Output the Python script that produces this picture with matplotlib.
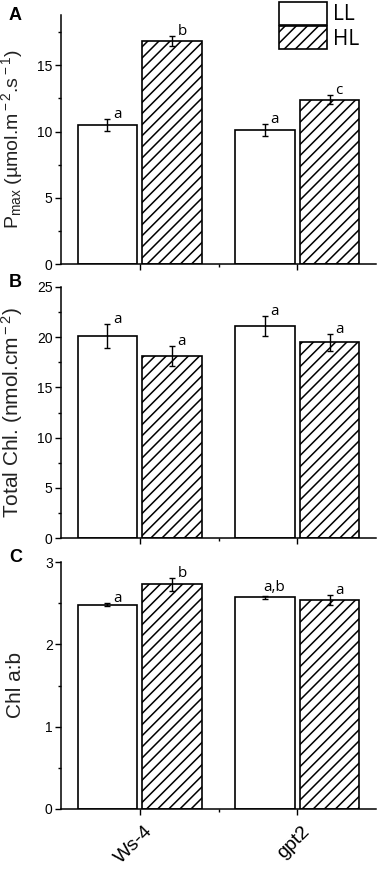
import numpy as np
import matplotlib
matplotlib.use("Agg")
import matplotlib.pyplot as plt
import matplotlib.transforms as mtransforms
from matplotlib.ticker import MultipleLocator, FixedLocator

plt.rcParams['font.family'] = ['Liberation Sans', 'DejaVu Sans']
plt.rcParams['mathtext.fontset'] = 'custom'
plt.rcParams['mathtext.rm'] = 'Liberation Sans'
plt.rcParams['mathtext.it'] = 'Liberation Sans:italic'
plt.rcParams['hatch.linewidth'] = 1.1

# ---- data ----
genotypes = ['Ws-4', 'gpt2']
conditions = ['LL', 'HL']

pmax_ll = [10.5, 10.1]
pmax_ll_err = [0.47, 0.45]
pmax_hl = [16.85, 12.4]
pmax_hl_err = [0.38, 0.35]
pmax_letters_ll = ['a', 'a']
pmax_letters_hl = ['b', 'c']

chl_ll = [20.1, 21.1]
chl_ll_err = [1.2, 1.0]
chl_hl = [18.1, 19.5]
chl_hl_err = [1.0, 0.85]
chl_letters_ll = ['a', 'a']
chl_letters_hl = ['a', 'a']

ab_ll = [2.48, 2.57]
ab_ll_err = [0.02, 0.02]
ab_hl = [2.73, 2.54]
ab_hl_err = [0.08, 0.06]
ab_letters_ll = ['a', 'a,b']
ab_letters_hl = ['b', 'a']

panels = [
    ('A', pmax_ll, pmax_ll_err, pmax_hl, pmax_hl_err, pmax_letters_ll, pmax_letters_hl,
     'P$_{\\rm max}$ (µmol.m$^{\\rm -2}$.s$^{\\rm -1}$)', 18.8, 5, 2.5),
    ('B', chl_ll, chl_ll_err, chl_hl, chl_hl_err, chl_letters_ll, chl_letters_hl,
     'Total Chl. (nmol.cm$^{\\rm -2}$)', 25, 5, 2.5),
    ('C', ab_ll, ab_ll_err, ab_hl, ab_hl_err, ab_letters_ll, ab_letters_hl,
     'Chl a:b', 3, 1, 0.5),
]

W, H = 383, 869
fig = plt.figure(figsize=(W / 100, H / 100), dpi=100)

# axes boxes in pixels (top, bottom) and panel label top
boxes = [(15, 264), (287, 538), (562, 809)]
label_top = [7, 274, 549]
label_size = [14, 15, 15]
left_px, right_px = 61, 376

x = np.arange(len(genotypes))
off = 0.205
width = 0.38
letter_font = ['Open Sans', 'DejaVu Sans']

axes = []
for i, ((lab, ll, ll_e, hl, hl_e, let_ll, let_hl, ylabel, ytop, major, minor), (top, bot)) in enumerate(zip(panels, boxes)):
    ax = fig.add_axes([left_px / W, 1 - bot / H, (right_px - left_px) / W, (bot - top) / H])
    axes.append(ax)
    ax.bar(x - off, ll, width, color='white', edgecolor='black', linewidth=1.2, label='LL')
    ax.bar(x + off, hl, width, color='white', edgecolor='black', linewidth=1.2,
           hatch='///', label='HL')
    ax.errorbar(x - off, ll, yerr=ll_e, fmt='none', ecolor='black', elinewidth=1, capsize=2.5, capthick=1)
    ax.errorbar(x + off, hl, yerr=hl_e, fmt='none', ecolor='black', elinewidth=1, capsize=2.5, capthick=1)

    for xi, v, e, t in zip(list(x - off) + list(x + off), ll + hl, ll_e + hl_e, let_ll + let_hl):
        if t == 'a,b':
            ax.text(xi + 0.06, v + e + ytop * 0.02, t, fontsize=11,
                    family=letter_font, ha='center', va='baseline')
        else:
            ax.text(xi + 0.035, v + e + ytop * 0.004, t, fontsize=11,
                    family=letter_font, ha='left', va='baseline')

    ax.set_xlim(-0.5, 1.5)
    ax.set_ylim(0, ytop)
    ax.yaxis.set_major_locator(MultipleLocator(major))
    ax.yaxis.set_minor_locator(MultipleLocator(minor))
    ax.xaxis.set_major_locator(FixedLocator(x))
    ax.xaxis.set_minor_locator(FixedLocator([0.5]))
    ax.spines['top'].set_visible(False)
    ax.spines['right'].set_visible(False)
    ax.spines['left'].set_linewidth(1.1)
    ax.spines['bottom'].set_linewidth(1.1)
    ax.tick_params(axis='both', which='major', direction='out', length=4, width=1, labelsize=10, pad=2)
    ax.tick_params(axis='both', which='minor', direction='out', length=2.5, width=1)
    ax.set_ylabel(ylabel, fontsize=label_size[i], color='#222222')
    ax.yaxis.set_label_coords(-0.115, 0.5)
    ax.set_xticklabels([])
    fig.text(9 / W, 1 - label_top[i] / H, lab, fontsize=13, fontweight='bold', va='top', ha='left')

axes[-1].set_xticks(x)
axes[-1].set_xticklabels(genotypes, rotation=45, ha='right', rotation_mode='anchor', fontsize=14)
axes[-1].tick_params(axis='x', which='major', pad=6)
shift = mtransforms.ScaledTranslation(4 / 100, 0, fig.dpi_scale_trans)
for t in axes[-1].get_xticklabels():
    t.set_transform(t.get_transform() + shift)

axes[0].legend(loc='upper left', bbox_to_anchor=(279 / W, 1 - 2 / H), bbox_transform=fig.transFigure,
               frameon=False, handlelength=2.3, handleheight=1.3,
               labelspacing=0.05, handletextpad=0.3, borderpad=0, borderaxespad=0,
               prop={'family': letter_font, 'size': 15})

fig.savefig('out.png', dpi=100)
